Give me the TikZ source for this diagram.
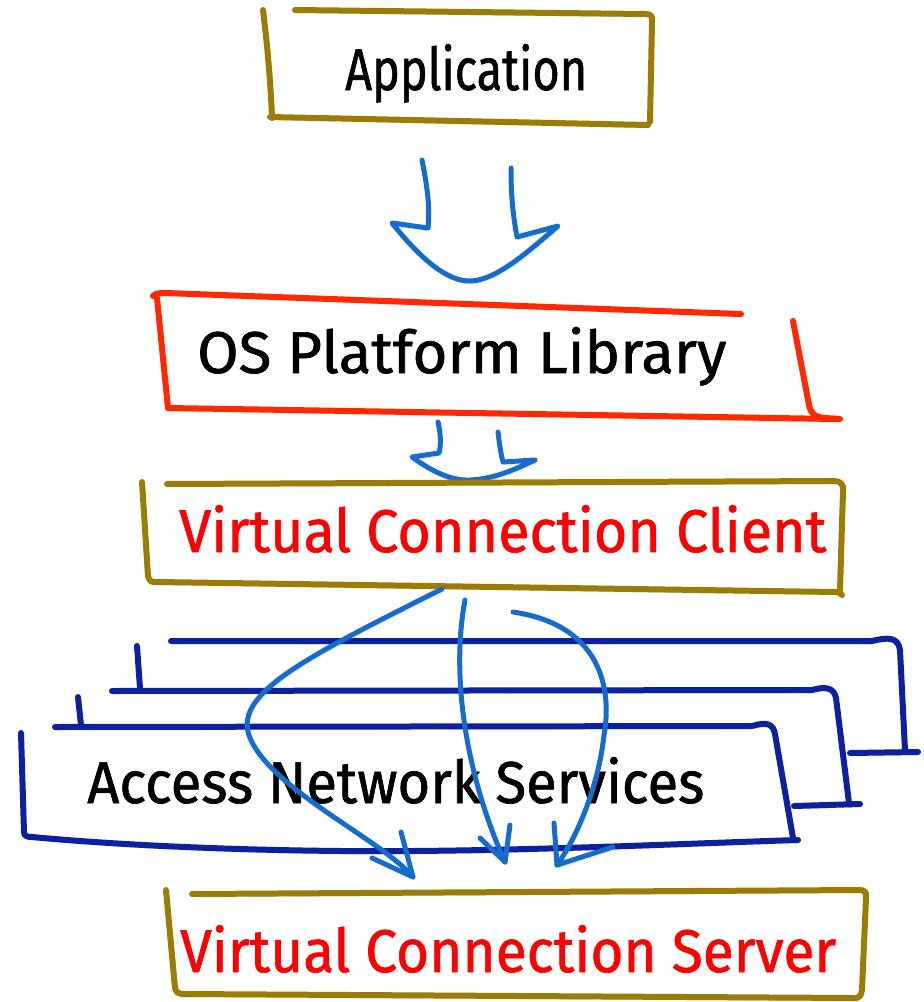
\documentclass[tikz,border=0pt]{standalone}
\usepackage{fontspec}
\setmainfont{Fira Sans}[FakeBold=1.1]
\usepackage{graphicx}
\definecolor{olivec}{RGB}{155,125,5}
\definecolor{redline}{RGB}{255,40,0}
\definecolor{textred}{RGB}{255,0,0}
\definecolor{arrowblue}{RGB}{22,108,204}
\definecolor{navyc}{RGB}{12,32,160}
\newcommand{\fittext}[3]{\resizebox{#1}{#2}{#3}}
\begin{document}
\begin{tikzpicture}[x=1pt,y=-1pt,
  shadowed/.style={preaction={draw=black!40,opacity=0.35,transform canvas={shift={(1.5pt,-3pt)}}}},
  sketch/.style={shadowed,line width=6pt,line cap=round,line join=round},
  olivebox/.style={sketch,draw=olivec},
  redbox/.style={sketch,draw=redline},
  navybox/.style={sketch,draw=navyc},
  bluearrow/.style={shadowed,draw=arrowblue,line width=5pt,line cap=round,line join=round},
  lbl/.style={inner sep=0pt,anchor=base west}
]
\useasboundingbox[fill=white] (0,0) rectangle (924,1002);

% ---------- Application box ----------
\draw[olivebox] (295,10) -- (645,14) .. controls (651,14) and (653,16) .. (652,22) -- (650,122);
\draw[olivebox] (263,10) .. controls (268,50) and (271,90) .. (272,118);
\draw[olivebox] (270,117) -- (648,125);
\node[lbl] (app) at (345,90) {\fittext{242pt}{46pt}{Application}};

% ---------- arrow 1 ----------
\coordinate (a1l) at (422,160);
\coordinate (a1r) at (511,168);
\draw[bluearrow] (a1l) .. controls (428,190) and (430,210) .. (428,228) -- (392,223)
  .. controls (420,258) and (447,282) .. (471,281)
  .. controls (497,280) and (530,250) .. (558,226) -- (517,237)
  .. controls (512,210) and (511,190) .. (a1r);

% ---------- OS Platform Library box ----------
\draw[redbox] (153,296) .. controls (156,293) and (160,293) .. (166,293) -- (741,314);
\draw[redbox] (157,298) -- (168,408);
\draw[redbox] (793,321) -- (809,405) .. controls (811,414) and (815,417) .. (825,418) -- (840,419);
\draw[redbox] (168,408) -- (835,419);
\node[lbl] (os) at (197,373) {\fittext{529pt}{46pt}{OS Platform Library}};

% ---------- arrow 2 ----------
\coordinate (a2l) at (438,422);
\coordinate (a2r) at (498,432);
\draw[bluearrow] (a2l) .. controls (441,435) and (441,445) .. (439,453) -- (412,457)
  .. controls (430,470) and (450,481) .. (470,480)
  .. controls (495,479) and (518,468) .. (535,460) -- (503,462)
  .. controls (500,450) and (499,440) .. (a2r);

% ---------- Virtual Connection Client box ----------
\draw[olivebox] (167,484) -- (834,481) .. controls (840,481) and (844,484) .. (843,491) -- (840,590);
\draw[olivebox] (142,482) -- (148,576) .. controls (149,581) and (152,583) .. (158,582) -- (835,592) .. controls (839,592) and (841,593) .. (842,595);
\node[lbl] (vcc) at (179,552) {\color{textred}\fittext{647pt}{47pt}{Virtual Connection Client}};

% ---------- Access Network Services stack ----------
% back sheet
\draw[navybox] (171,641) -- (872,641) .. controls (888,637) and (898,637) .. (900,650) -- (905,750);
\draw[navybox] (850,753) -- (918,752);
\draw[navybox] (137,646) -- (140,688);
% middle sheet
\draw[navybox] (112,691) -- (812,690) .. controls (826,686) and (834,688) .. (836,698) -- (849,803);
\draw[navybox] (794,806) -- (860,804);
\draw[navybox] (78,697) -- (81,725);
% front sheet
\draw[navybox] (55,727) -- (752,726) .. controls (766,722) and (773,723) .. (775,734) -- (793,838);
\draw[navybox] (21,733) -- (24,832) .. controls (24,836) and (27,837) .. (32,837)
  .. controls (150,848) and (300,852) .. (412,851)
  .. controls (550,850) and (700,843) .. (798,840);
\node[lbl] (ans) at (87,803) {\fittext{617pt}{46pt}{Access Network Services}};

% ---------- Virtual Connection Server box ----------
\draw[olivebox] (192,894) -- (860,890) .. controls (865,890) and (867,893) .. (866,898) -- (862,990) .. controls (861,995) and (860,997) .. (857,998);
\draw[olivebox] (166,890) -- (175,988) .. controls (176,992) and (178,994) .. (184,994) -- (855,998);
\node[lbl] (vcs) at (180,972) {\color{textred}\fittext{656pt}{47pt}{Virtual Connection Server}};

% ---------- fan-out arrows ----------
\coordinate (fa) at (442,589);
\coordinate (ta) at (413,877);
\coordinate (fb) at (465,600);
\coordinate (tb) at (505,862);
\coordinate (fc) at (513,612);
\coordinate (tc) at (557,865);
\draw[bluearrow] (fa) .. controls (300,660) and (232,695) .. (250,738)
  .. controls (272,790) and (382,840) .. (ta);
\draw[bluearrow] (401,832) -- (ta) -- (372,858);
\draw[bluearrow] (fb) .. controls (450,680) and (468,780) .. (tb);
\draw[bluearrow] (480,838) -- (tb) -- (510,825);
\draw[bluearrow] (fc) .. controls (602,625) and (612,690) .. (604,735)
  .. controls (598,790) and (575,840) .. (tc);
\draw[bluearrow] (554,823) -- (tc) -- (613,847);
\end{tikzpicture}
\end{document}
